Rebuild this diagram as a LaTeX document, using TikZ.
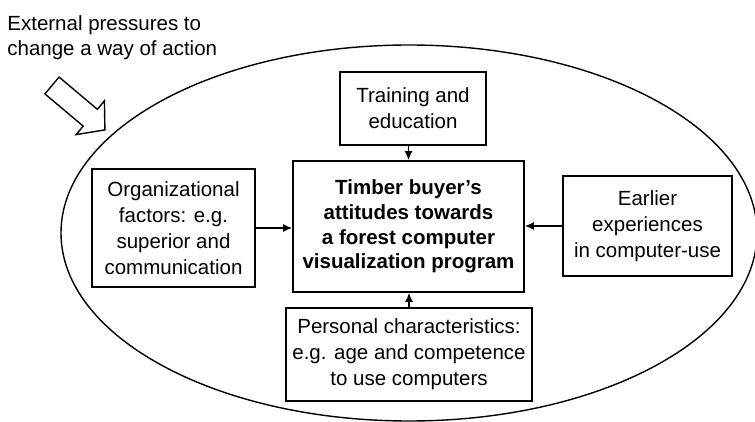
\documentclass[tikz,border=0pt]{standalone}
\usepackage{fontspec}
\setmainfont{Liberation Sans}
\usetikzlibrary{arrows.meta}

\tikzset{
  factor/.style={draw,line width=0.8pt,align=center,inner sep=0pt,
    font=\fontsize{10.25}{13}\selectfont},
  link/.style={->,line width=0.8pt},
}

\begin{document}
\begin{tikzpicture}[x=0.5pt,y=-0.5pt,>={Latex[length=4.5pt,width=4pt]}]
  \useasboundingbox (0,0) rectangle (755,422);
  % Outer ellipse
  \draw[line width=0.7pt] (409,233) ellipse [x radius=174pt, y radius=94pt];
  % Pressure arrow
  \draw[line width=0.7pt,line join=miter] (59.1,77.1) -- (97.4,109.3) -- (104.4,100.8)
    -- (104.9,129.9) -- (76.2,134.6) -- (83.2,126.1) -- (44.9,93.9) -- cycle;
  \node[anchor=north west,align=left,inner sep=0pt,
    font=\fontsize{10.25}{12.5}\selectfont] (pressure) at (7,15)
    {External pressures to\\change a way of action};
  % Boxes
  \node[factor,minimum width=115.5pt,minimum height=65.5pt,
    font=\fontsize{10.25}{12.3}\selectfont\bfseries] (attitude) at (408.5,226.5)
    {Timber buyer’s\\attitudes towards\\a forest computer\\visualization program};
  \node[factor,minimum width=73pt,minimum height=36.5pt] (training) at (413,108.5)
    {Training and\\education};
  \node[factor,minimum width=81.5pt,minimum height=59pt] (organization) at (173.5,228)
    {Organizational\\factors: e.g.\\superior and\\communication};
  \node[factor,minimum width=84.5pt,minimum height=50pt] (experience) at (647.5,226)
    {Earlier\\experiences\\in computer-use};
  \node[factor,minimum width=123pt,minimum height=46.5pt] (personal) at (409,354.5)
    {Personal characteristics:\\e.g. age and competence\\to use computers};
  % Arrows into the centre
  \draw[link] (attitude.north |- training.south) -- (attitude.north);
  \draw[link] (personal.north) -- (personal.north |- attitude.south);
  \draw[link] (organization) -- (organization -| attitude.west);
  \draw[link] (experience) -- (experience -| attitude.east);
\end{tikzpicture}
\end{document}
